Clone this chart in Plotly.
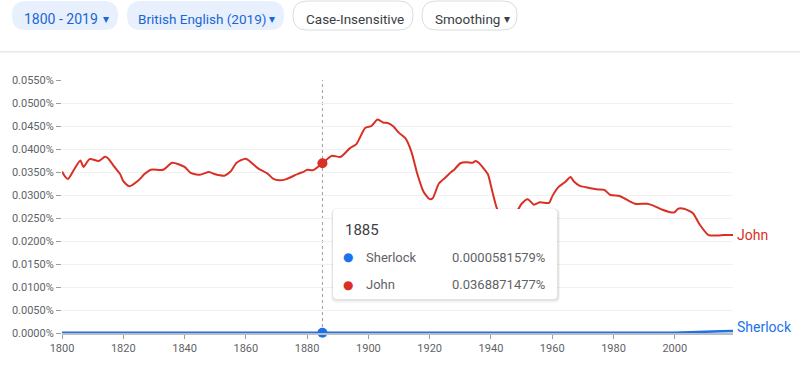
import plotly.graph_objects as go

# ---------------- data ----------------
JOHN_YEARS = [1800, 1801, 1802, 1804, 1806, 1807, 1809, 1812, 1814, 1815, 1817, 1819, 1820, 1822,
              1825, 1827, 1829, 1833, 1836, 1840, 1842, 1845, 1848, 1850, 1853, 1855, 1857, 1860,
              1864, 1867, 1869, 1871, 1873, 1877, 1879, 1880, 1882, 1885, 1888, 1891, 1894, 1896,
              1899, 1901, 1903, 1905, 1906, 1908, 1910, 1912, 1914, 1916, 1918, 1920, 1921, 1923,
              1925, 1927, 1928, 1930, 1932, 1934, 1935, 1936, 1939, 1940, 1942, 1944, 1946, 1948,
              1950, 1952, 1954, 1956, 1959, 1960, 1962, 1964, 1966, 1967, 1969, 1971, 1973, 1975,
              1977, 1979, 1982, 1984, 1987, 1991, 1993, 1996, 1999, 2000, 2001, 2003, 2006, 2008,
              2011, 2014, 2016, 2019]
JOHN_VALUES = [0.0351, 0.0340, 0.0335, 0.0356, 0.0375, 0.0361, 0.0378, 0.0374, 0.0383, 0.0380,
               0.0362, 0.0345, 0.0330, 0.0319, 0.0332, 0.0346, 0.0355, 0.0355, 0.0370, 0.0361,
               0.0348, 0.0344, 0.0350, 0.0345, 0.0342, 0.0351, 0.0370, 0.0379, 0.0358, 0.0347,
               0.0335, 0.0332, 0.0334, 0.0346, 0.0351, 0.0355, 0.0354, 0.0368871477, 0.0385,
               0.0383, 0.0402, 0.0410, 0.0446, 0.0450, 0.0464, 0.0457, 0.0457, 0.0450, 0.0435,
               0.0424, 0.0395, 0.0345, 0.0307, 0.0291, 0.0293, 0.0325, 0.0337, 0.0350, 0.0355,
               0.0369, 0.0371, 0.0370, 0.0374, 0.0370, 0.0345, 0.0320, 0.0270, 0.0250, 0.0244,
               0.0258, 0.0281, 0.0291, 0.0279, 0.0284, 0.0283, 0.0297, 0.0317, 0.0327, 0.0339,
               0.0330, 0.0320, 0.0317, 0.0314, 0.0312, 0.0311, 0.0300, 0.0298, 0.0291, 0.0281,
               0.0281, 0.0277, 0.0268, 0.0262, 0.0263, 0.0270, 0.0270, 0.0260, 0.0237, 0.0213,
               0.0212, 0.0213, 0.0213]

SHERLOCK_YEARS = [1800, 1820, 1840, 1860, 1880, 1885, 1900, 1920, 1940, 1960, 1980, 2000, 2005,
                  2010, 2015, 2019]
SHERLOCK_VALUES = [0.00004, 0.00005, 0.00004, 0.00004, 0.00005, 0.0000581579, 0.00007, 0.00007,
                   0.00006, 0.00006, 0.00007, 0.00008, 0.00014, 0.00028, 0.00038, 0.00042]

HOVER_YEAR = 1885
HOVER_LABELS = ["Sherlock", "John"]
HOVER_TEXT = ["0.0000581579%", "0.0368871477%"]

X_TICKS = list(range(1800, 2001, 20))
BUTTONS = ["1800 - 2019", "British English (2019)", "Case-Insensitive", "Smoothing"]

RED = "#d93025"
BLUE = "#1a73e8"
GRAY_TXT = "#5f6368"

# ---------------- geometry helpers (page pixels) ----------------
W, H = 800, 367
ML, MR, MT, MB = 62, 67, 80, 31
PW, PH = W - ML - MR, H - MT - MB


def px(x):
    return (x - ML) / PW


def py(y):
    return (H - MB - y) / PH


def rrect(x0, y0, x1, y1, r):
    # path relative to paper anchor (0,0) = page (ML, H-MB), y up
    X0, X1 = x0 - ML, x1 - ML
    Y0, Y1 = (H - MB) - y1, (H - MB) - y0  # bottom, top
    return (f"M{X0 + r},{Y0} L{X1 - r},{Y0} Q{X1},{Y0} {X1},{Y0 + r} "
            f"L{X1},{Y1 - r} Q{X1},{Y1} {X1 - r},{Y1} L{X0 + r},{Y1} "
            f"Q{X0},{Y1} {X0},{Y1 - r} L{X0},{Y0 + r} Q{X0},{Y0} {X0 + r},{Y0} Z")


def pshape(path, fill, line_color="rgba(0,0,0,0)", line_width=0):
    return dict(type="path", xref="paper", yref="paper", xsizemode="pixel", ysizemode="pixel",
                xanchor=0, yanchor=0, path=path, fillcolor=fill,
                line=dict(color=line_color, width=line_width), layer="above")


fig = go.Figure()

fig.add_trace(go.Scatter(x=JOHN_YEARS, y=JOHN_VALUES, mode="lines", name="John",
                         line=dict(color=RED, width=2, shape="spline", smoothing=0.6),
                         hoverinfo="skip"))
fig.add_trace(go.Scatter(x=SHERLOCK_YEARS, y=SHERLOCK_VALUES, mode="lines", name="Sherlock",
                         line=dict(color=BLUE, width=2.5, shape="spline", smoothing=0.6),
                         hoverinfo="skip"))

# hover dots
hj = JOHN_VALUES[JOHN_YEARS.index(HOVER_YEAR)]
hs = SHERLOCK_VALUES[SHERLOCK_YEARS.index(HOVER_YEAR)]
fig.add_trace(go.Scatter(x=[HOVER_YEAR], y=[hj], mode="markers",
                         marker=dict(color=RED, size=10), hoverinfo="skip", cliponaxis=False))
fig.add_trace(go.Scatter(x=[HOVER_YEAR], y=[hs], mode="markers",
                         marker=dict(color=BLUE, size=10), hoverinfo="skip", cliponaxis=False))

shapes = []
# vertical dotted hover line
shapes.append(dict(type="line", xref="x", yref="paper", x0=HOVER_YEAR, x1=HOVER_YEAR, y0=0, y1=1,
                   line=dict(color="#9e9e9e", width=1, dash="dot"), layer="below"))
# divider under buttons
shapes.append(dict(type="line", xref="paper", yref="paper", x0=px(0), x1=px(W), y0=py(51.5),
                   y1=py(51.5), line=dict(color="#e8e8e8", width=1.5)))

# tooltip
TX0, TY0, TX1, TY1 = 333, 212, 557, 302
shapes.append(pshape(rrect(TX0 - 2, TY0 - 1, TX1 + 3, TY1 + 4, 6), "rgba(0,0,0,0.04)"))
shapes.append(pshape(rrect(TX0 - 1, TY0, TX1 + 2, TY1 + 2, 5), "rgba(0,0,0,0.07)"))
shapes.append(pshape(rrect(TX0, TY0, TX1, TY1, 4), "white"))

# buttons: (x0, y0, x1, y1, filled, text_left, arrow_x, font_size)
pills = [(12, 4, 118, 33, True, 22, 106, 14), (127, 4, 284, 33, True, 136, 272, 13.5),
         (293, 4, 413, 33, False, 304, None, 13.5), (422, 4, 517, 33, False, 432.5, 507, 13.5)]
annotations = []
for (x0, y0, x1, y1, filled, tx, ax, fs), label in zip(pills, BUTTONS):
    if filled:
        shapes.append(pshape(rrect(x0, y0, x1, y1, 14), "#e8f0fe"))
    else:
        shapes.append(pshape(rrect(x0, y0, x1, y1, 14), "white", "#dadce0", 1))
    color = "#1967d2" if filled else "#3c4043"
    annotations.append(dict(xref="paper", yref="paper", x=px(tx), y=py(18), text=label,
                            showarrow=False, xanchor="left", yanchor="middle",
                            font=dict(size=fs, color=color, family="Roboto")))
    if ax is not None:
        annotations.append(dict(xref="paper", yref="paper", x=px(ax), y=py(18.5), text="▾",
                                showarrow=False, xanchor="center", yanchor="middle",
                                font=dict(size=12, color=color, family="DejaVu Sans")))

# tooltip text
annotations.append(dict(xref="paper", yref="paper", x=px(343), y=py(232), text=str(HOVER_YEAR),
                        showarrow=False, xanchor="left", yanchor="middle",
                        font=dict(size=15, color="#3c4043", family="Roboto")))
for i, (lab, val, col) in enumerate(zip(HOVER_LABELS, HOVER_TEXT, [BLUE, RED])):
    yy = 259.5 + i * 27.5
    annotations.append(dict(xref="paper", yref="paper", x=px(348), y=py(yy), text="●",
                            showarrow=False, xanchor="center", yanchor="middle",
                            font=dict(size=12, color=col, family="DejaVu Sans")))
    annotations.append(dict(xref="paper", yref="paper", x=px(364), y=py(yy), text=lab,
                            showarrow=False, xanchor="left", yanchor="middle",
                            font=dict(size=13, color=GRAY_TXT, family="Roboto")))
    annotations.append(dict(xref="paper", yref="paper", x=px(547), y=py(yy), text=val,
                            showarrow=False, xanchor="right", yanchor="middle",
                            font=dict(size=13, color=GRAY_TXT, family="Roboto")))

# series end labels
annotations.append(dict(x=JOHN_YEARS[-1], y=JOHN_VALUES[-1], xref="x", yref="y", text="John",
                        showarrow=False, xanchor="left", yanchor="middle", xshift=2,
                        font=dict(size=14, color=RED, family="Roboto")))
annotations.append(dict(x=SHERLOCK_YEARS[-1], y=SHERLOCK_VALUES[-1], xref="x", yref="y",
                        text="Sherlock", showarrow=False, xanchor="left", yanchor="middle",
                        xshift=2, yshift=4, font=dict(size=14, color=BLUE, family="Roboto")))

fig.update_layout(
    width=W, height=H,
    margin=dict(l=ML, r=MR, t=MT, b=MB, pad=0),
    paper_bgcolor="white", plot_bgcolor="white",
    showlegend=False, hovermode=False,
    font=dict(family="Roboto", color=GRAY_TXT),
    shapes=shapes, annotations=annotations,
    xaxis=dict(range=[1800, 2019], tickvals=X_TICKS, showgrid=False, zeroline=False,
               showline=True, linecolor="#bdbdbd", linewidth=2, ticks="outside", ticklen=4,
               tickcolor="#9e9e9e", tickfont=dict(size=11, color=GRAY_TXT), fixedrange=True),
    yaxis=dict(range=[0, 0.055], dtick=0.005, tick0=0, tickformat=".4f", ticksuffix="%",
               showgrid=True, gridcolor="#f1f1f1", gridwidth=1, zeroline=False, showline=False,
               ticks="outside", ticklen=5, tickcolor="#9e9e9e",
               tickfont=dict(size=11, color=GRAY_TXT), fixedrange=True),
)

fig.write_html("out.html", config={"displayModeBar": False},
               post_script="document.body.style.margin='0';document.body.style.padding='0';"
                           "document.documentElement.style.overflow='hidden';")
